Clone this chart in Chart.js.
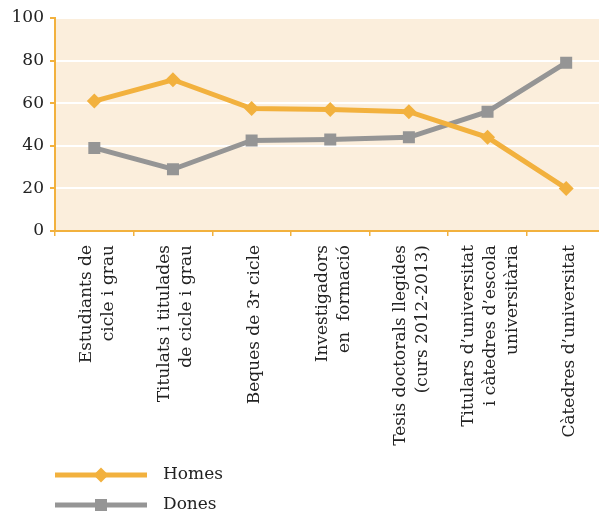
<!DOCTYPE html>
<html>
<head>
<meta charset="utf-8">
<script src="https://cdn.jsdelivr.net/npm/chart.js@4/dist/chart.umd.min.js"></script>
<style>
  html, body { margin: 0; padding: 0; background: #fff; overflow: hidden; }
  canvas { display: block; }
</style>
</head>
<body>
<!-- the plot runs past the right edge of the window, as in the original -->
<canvas id="myChart" width="614" height="512"></canvas>
<script>
// categories (multi-line labels as drawn under the axis)
var categories = [
  ['Estudiants de', 'cicle i grau'],
  ['Titulats i titulades', 'de cicle i grau'],
  ['Beques de 3r cicle'],
  ['Investigadors', 'en  formació'],
  ['Tesis doctorals llegides', '(curs 2012-2013)'],
  ['Titulars d’universitat', 'i càtedres d’escola', 'universitària'],
  ['Càtedres d’universitat']
];
// percentages
var homes = [61, 71, 57.5, 57, 56, 44, 20];
var dones = [39, 29, 42.5, 43, 44, 56, 79];
var yTicks = [0, 20, 40, 60, 80, 100];

var ORANGE = '#f2b13e';
var GREY = '#959595';
var SERIF = '"DejaVu Serif", "Liberation Serif", serif';
var LABEL_LH = 17 * 1.3;

// fill the plot area
var plotBg = {
  id: 'plotBg',
  beforeDraw: function (chart) {
    var a = chart.chartArea, ctx = chart.ctx;
    ctx.save();
    ctx.fillStyle = '#fbeedc';
    ctx.fillRect(a.left, a.top, a.right - a.left, a.bottom - a.top);
    ctx.restore();
  }
};

// center multi-line rotated labels on their category
var centerLabels = {
  id: 'centerLabels',
  beforeDraw: function (chart) {
    var items = chart.scales.x.getLabelItems(chart.chartArea);
    if (items._centered) return;
    items.forEach(function (item, i) {
      var n = categories[i].length;
      item.options.translation[0] += -(n - 1) * LABEL_LH / 2 + 3;
    });
    items._centered = true;
  }
};

// stacked legend under the labels: line + marker + name
var stackedLegend = {
  id: 'stackedLegend',
  afterDraw: function (chart) {
    var ctx = chart.ctx;
    chart.data.datasets.forEach(function (ds, i) {
      var y = 475 + i * 30;
      ctx.save();
      ctx.strokeStyle = ds.borderColor;
      ctx.lineWidth = 5;
      ctx.beginPath();
      ctx.moveTo(55, y);
      ctx.lineTo(147, y);
      ctx.stroke();
      ctx.fillStyle = ds.borderColor;
      Chart.helpers.drawPoint(ctx, { pointStyle: ds.pointStyle, radius: ds.pointRadius, borderWidth: 0 }, 101, y);
      ctx.fillStyle = '#222';
      ctx.font = '17px ' + SERIF;
      ctx.textBaseline = 'middle';
      ctx.fillText(ds.label, 163, y);
      ctx.restore();
    });
  }
};

var myChart = new Chart(document.getElementById('myChart'), {
  type: 'line',
  data: {
    labels: categories,
    datasets: [{
      label: 'Homes', data: homes,
      borderColor: ORANGE, backgroundColor: ORANGE, borderWidth: 5,
      pointStyle: 'rectRot', pointRadius: 7.5, pointHoverRadius: 7.5, pointBorderWidth: 0,
      fill: false, tension: 0
    }, {
      label: 'Dones', data: dones,
      borderColor: GREY, backgroundColor: GREY, borderWidth: 5,
      pointStyle: 'rect', pointRadius: 8.5, pointHoverRadius: 8.5, pointBorderWidth: 0,
      fill: false, tension: 0
    }]
  },
  options: {
    responsive: false,
    animation: false,
    layout: { padding: { top: 18, right: 0, left: 0, bottom: 0 } },
    plugins: { legend: { display: false }, tooltip: { enabled: false } },
    scales: {
      x: {
        offset: true,
        afterFit: function (scale) { scale.height = 281; scale.paddingLeft = 0; scale.paddingRight = 0; },
        border: { color: ORANGE, width: 2 },
        grid: { offset: true, drawOnChartArea: false, color: ORANGE, tickColor: ORANGE, tickLength: 5, lineWidth: 1.5 },
        ticks: {
          autoSkip: false, minRotation: 90, maxRotation: 90, padding: 9, color: '#222',
          font: { family: SERIF, size: 17, lineHeight: 1.3 }
        }
      },
      y: {
        min: 0, max: 100,
        afterFit: function (scale) { scale.width = 55; },
        afterBuildTicks: function (scale) { scale.ticks = yTicks.map(function (v) { return { value: v }; }); },
        border: { color: ORANGE, width: 2 },
        grid: { color: '#ffffff', lineWidth: 2, tickColor: ORANGE, tickLength: 5 },
        ticks: { padding: 6, color: '#222', font: { family: SERIF, size: 17 } }
      }
    }
  },
  plugins: [plotBg, centerLabels, stackedLegend]
});
</script>
</body>
</html>
